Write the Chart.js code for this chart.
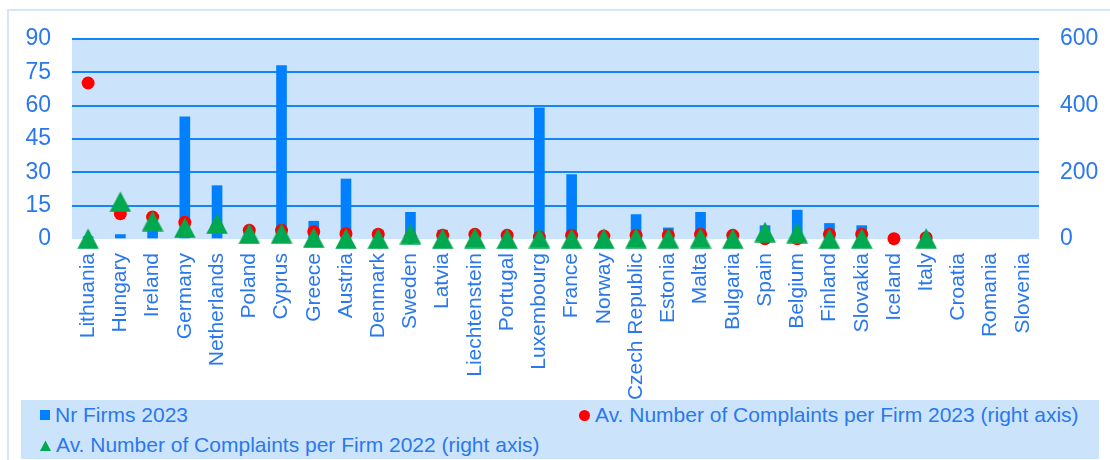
<!DOCTYPE html>
<html>
<head>
<meta charset="utf-8">
<script src="https://cdn.jsdelivr.net/npm/chart.js@4"></script>
<style>
  html, body { margin: 0; padding: 0; background: #ffffff; overflow: hidden; }
  #wrap { position: relative; width: 1110px; height: 460px; overflow: hidden; font-family: "Liberation Sans", Arial, sans-serif; }
  #frame { position: absolute; left: 7px; top: 9px; width: 1200px; height: 600px; border-left: 2px solid #D3E4FB; border-top: 2px solid #D3E4FB; box-sizing: border-box; }
  #c { position: absolute; left: 0; top: 0; }
  #legend { position: absolute; left: 21px; top: 401px; width: 1078px; height: 59px; background: #CCE4FB;
            display: grid; grid-template-columns: 539px auto; grid-auto-rows: 30px; padding-left: 19px; box-sizing: border-box; margin-top: -1px; padding-top: 0; }
  .li { display: flex; align-items: center; font-size: 21px; color: #2A78EE; white-space: nowrap; }
  .mk { margin-right: 5px; flex: none; }
</style>
</head>
<body>
<div id="wrap">
  <div id="frame"></div>
  <canvas id="c" width="1110" height="401"></canvas>
  <div id="legend"></div>
</div>
<script>
// ---- data ----
const countries = ['Lithuania','Hungary','Ireland','Germany','Netherlands','Poland','Cyprus','Greece','Austria','Denmark','Sweden','Latvia','Liechtenstein','Portugal','Luxembourg','France','Norway','Czech Republic','Estonia','Malta','Bulgaria','Spain','Belgium','Finland','Slovakia','Iceland','Italy','Croatia','Romania','Slovenia'];
const firms2023 = [1, 2, 5, 55, 24, 3, 78, 8, 27, 4, 12, 4, 1, 1, 59, 29, 1, 11, 5, 12, 3, 6, 13, 7, 6, 1, 1, null, null, null];
const complaints2023 = [468, 76, 66, 50, 35, 26, 26, 22, 16, 14, 4, 11, 14, 11, 6, 11, 9, 11, 11, 14, 11, 1, 1, 14, 14, 1, 4, null, null, null];
const complaints2022 = [1, 112, 54, 34, 46, 16, 17, 4, 1, 1, 15, 1, 3, 1, 3, 1, 1, 3, 2, 3, 1, 21, 18, 1, 2, null, 2, null, null, null];
const leftTicks = [0, 15, 30, 45, 60, 75, 90];
const rightTicks = [0, 200, 400, 600];
const seriesNames = ['Nr Firms 2023', 'Av. Number of Complaints per Firm 2023 (right axis)', 'Av. Number of Complaints per Firm 2022 (right axis)'];

// ---- styles ----
const TXT = '#2A78EE';
const BAR = '#0080FF';
const GRID = '#1584F8';
const PLOTBG = '#CCE4FB';
const RED = '#FF0000';
const GREEN = '#00A84F';
const FONT = '"Liberation Sans", Arial, sans-serif';

// triangle marker image
const tri = document.createElement('canvas');
tri.width = 22; tri.height = 21;
(function(){
  const g = tri.getContext('2d');
  g.fillStyle = GREEN;
  g.beginPath();
  g.moveTo(11, 0.3); g.lineTo(21.8, 20.7); g.lineTo(0.2, 20.7); g.closePath();
  g.fill();
})();

const plotBg = {
  id: 'plotBg',
  beforeDraw(chart) {
    const a = chart.chartArea, ctx = chart.ctx;
    ctx.save();
    ctx.fillStyle = PLOTBG;
    ctx.fillRect(a.left, a.top, a.right - a.left, a.bottom - a.top);
    ctx.restore();
  }
};

const htmlLegend = {
  id: 'htmlLegend',
  afterUpdate(chart) {
    const box = document.getElementById('legend');
    box.innerHTML = '';
    [0, 1, 2].forEach(i => {
      const ds = chart.data.datasets[i];
      const item = document.createElement('div');
      item.className = 'li';
      let mk;
      if (i === 0) {
        mk = document.createElement('span');
        mk.style.cssText = 'display:inline-block;width:10px;height:10px;background:' + BAR;
      } else if (i === 1) {
        mk = document.createElement('span');
        mk.style.cssText = 'display:inline-block;width:11px;height:11px;border-radius:50%;background:' + RED;
      } else {
        mk = document.createElementNS('http://www.w3.org/2000/svg', 'svg');
        mk.setAttribute('width', '11'); mk.setAttribute('height', '11');
        const p = document.createElementNS('http://www.w3.org/2000/svg', 'polygon');
        p.setAttribute('points', '5.5,0.5 11,11 0,11');
        p.setAttribute('fill', GREEN);
        mk.appendChild(p);
      }
      mk.classList.add('mk');
      const t = document.createElement('span');
      t.textContent = ds.label;
      item.appendChild(mk); item.appendChild(t);
      box.appendChild(item);
    });
  }
};

new Chart(document.getElementById('c'), {
  data: {
    labels: countries,
    datasets: [
      { type: 'bar', label: seriesNames[0], data: firms2023, yAxisID: 'y', backgroundColor: BAR, borderWidth: 0, barThickness: 10, order: 3 },
      { type: 'line', label: seriesNames[1], data: complaints2023, yAxisID: 'y2', showLine: false, clip: false, pointStyle: 'circle', pointRadius: 6.5, pointBackgroundColor: RED, pointBorderWidth: 0, borderColor: RED, order: 2 },
      { type: 'line', label: seriesNames[2], data: complaints2022, yAxisID: 'y2', showLine: false, clip: false, pointStyle: tri, pointRadius: 11, pointBackgroundColor: GREEN, pointBorderWidth: 0, borderColor: GREEN, order: 1 }
    ]
  },
  options: {
    responsive: false,
    animation: false,
    events: [],
    layout: { padding: { top: 39, left: 0, right: 0, bottom: 0 } },
    plugins: { legend: { display: false }, tooltip: { enabled: false } },
    scales: {
      x: {
        type: 'category',
        grid: { display: false },
        border: { display: false },
        ticks: { color: TXT, font: { family: FONT, size: 21 }, minRotation: 90, maxRotation: 90, autoSkip: false, padding: 6 },
        afterFit(s) { s.height = 162; }
      },
      y: {
        position: 'left', min: 0, max: 90,
        afterBuildTicks(s) { s.ticks = leftTicks.map(v => ({ value: v })); },
        ticks: { color: TXT, font: { family: FONT, size: 23 }, padding: 21 },
        grid: { color: c => (c.tick && c.tick.value === 0) ? 'rgba(0,0,0,0)' : GRID, lineWidth: 2, drawTicks: false },
        border: { display: false },
        afterFit(s) { s.width = 72; }
      },
      y2: {
        position: 'right', min: 0, max: 600,
        afterBuildTicks(s) { s.ticks = rightTicks.map(v => ({ value: v })); },
        ticks: { color: TXT, font: { family: FONT, size: 23 }, padding: 21 },
        grid: { display: false, drawTicks: false },
        border: { display: false },
        afterFit(s) { s.width = 71; }
      }
    }
  },
  plugins: [plotBg, htmlLegend]
});
</script>
</body>
</html>
